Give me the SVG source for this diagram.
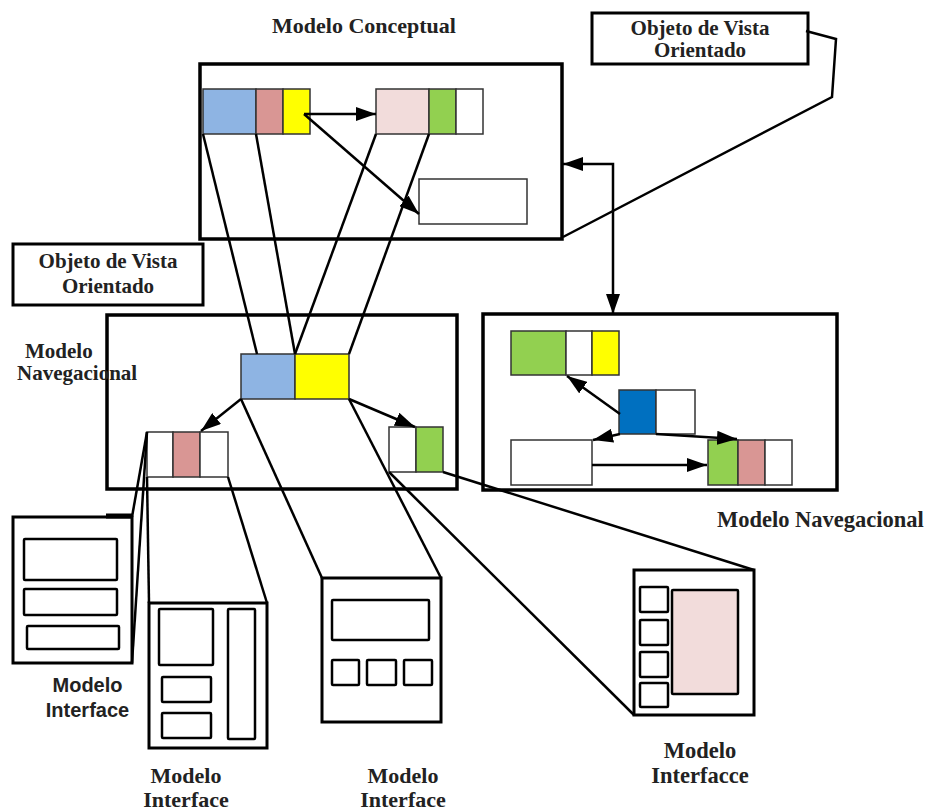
<svg xmlns="http://www.w3.org/2000/svg" width="931" height="811" viewBox="0 0 931 811">
<style>
.frame{fill:#fff;stroke:#000;stroke-width:3.5}
.cell{stroke:#333;stroke-width:1.5}
.ui{fill:#fff;stroke:#000;stroke-width:3}
.uin{fill:#fff;stroke:#000;stroke-width:2.5}
.lbl{fill:#fff;stroke:#000;stroke-width:3}
.con{fill:none;stroke:#000;stroke-width:2.5}
.ser{font-family:"Liberation Serif","Times New Roman",serif;font-weight:bold;fill:#222}
.san{font-family:"Liberation Sans",Arial,sans-serif;font-weight:bold;fill:#222}
.w{fill:#fff}.bl{fill:#8eb4e3}.pk{fill:#d99694}.yl{fill:#ffff00}.lp{fill:#f2dcdb}.gr{fill:#92d050}.db{fill:#0070c0}
</style>
<defs>
<marker id="ah" markerUnits="userSpaceOnUse" markerWidth="20" markerHeight="14" refX="20" refY="7" orient="auto">
<path d="M0,0 L20,7 L0,14 z" fill="#000"/>
</marker>
<marker id="ahs" markerUnits="userSpaceOnUse" markerWidth="20" markerHeight="14" refX="20" refY="7" orient="auto-start-reverse">
<path d="M0,0 L20,7 L0,14 z" fill="#000"/>
</marker>
</defs>
<rect width="931" height="811" fill="#fff"/>

<g id="conceptual">
<rect class="frame" x="200" y="64" width="362" height="175"/>
<rect class="cell bl" x="203" y="89" width="53" height="45"/>
<rect class="cell pk" x="256" y="89" width="27" height="45"/>
<rect class="cell yl" x="283" y="89" width="27" height="45"/>
<rect class="cell lp" x="376" y="89" width="53" height="45"/>
<rect class="cell gr" x="429" y="89" width="27" height="45"/>
<rect class="cell w" x="456" y="89" width="27" height="45"/>
<rect class="cell w" x="419" y="179" width="108" height="45"/>
<text class="ser" x="364" y="33" font-size="22" text-anchor="middle">Modelo Conceptual</text>
</g>

<g id="ovo-top">
<rect class="lbl" x="592" y="13" width="216" height="51"/>
<text class="ser" x="700" y="35" font-size="21" text-anchor="middle">Objeto de Vista</text>
<text class="ser" x="700" y="57" font-size="21" text-anchor="middle">Orientado</text>
</g>

<g id="ovo-left">
<rect class="lbl" x="13" y="244" width="190" height="61"/>
<text class="ser" x="108" y="268" font-size="21" text-anchor="middle">Objeto de Vista</text>
<text class="ser" x="108" y="293" font-size="21" text-anchor="middle">Orientado</text>
</g>

<g id="nav-left">
<rect class="frame" x="107" y="315" width="350" height="174"/>
<rect class="cell bl" x="241" y="354" width="54" height="45"/>
<rect class="cell yl" x="295" y="354" width="54" height="45"/>
<rect class="cell w" x="147" y="432" width="26" height="45"/>
<rect class="cell pk" x="173" y="432" width="27" height="45"/>
<rect class="cell w" x="200" y="432" width="28" height="45"/>
<rect class="cell w" x="389" y="427" width="27" height="45"/>
<rect class="cell gr" x="416" y="427" width="27" height="45"/>
<text class="ser" x="25" y="358" font-size="21">Modelo</text>
<text class="ser" x="17" y="380" font-size="21">Navegacional</text>
</g>

<g id="nav-right">
<rect class="frame" x="483" y="314" width="354" height="176"/>
<rect class="cell gr" x="511" y="331" width="55" height="44"/>
<rect class="cell w" x="566" y="331" width="26" height="44"/>
<rect class="cell yl" x="592" y="331" width="27" height="44"/>
<rect class="cell db" x="619" y="390" width="37" height="44"/>
<rect class="cell w" x="656" y="390" width="39" height="44"/>
<rect class="cell w" x="511" y="440" width="81" height="45"/>
<rect class="cell gr" x="708" y="440" width="30" height="45"/>
<rect class="cell pk" x="738" y="440" width="27" height="45"/>
<rect class="cell w" x="765" y="440" width="27" height="45"/>
<text class="ser" x="717" y="527" font-size="22.5">Modelo Navegacional</text>
</g>

<g id="interface-1">
<rect class="ui" x="13" y="517" width="119" height="146"/>
<line x1="106" y1="516" x2="132" y2="516" stroke="#000" stroke-width="5"/>
<rect class="uin" x="24" y="539" width="93" height="41" rx="1"/>
<rect class="uin" x="24" y="589" width="93" height="26" rx="1"/>
<rect class="uin" x="27" y="626" width="92" height="23" rx="1"/>
<text class="san" x="87.5" y="692" font-size="20" text-anchor="middle">Modelo</text>
<text class="san" x="87.5" y="717" font-size="20" text-anchor="middle">Interface</text>
</g>

<g id="interface-2">
<rect class="ui" x="149" y="603" width="118" height="145"/>
<rect class="uin" x="159" y="609" width="54" height="56" rx="1"/>
<rect class="uin" x="228" y="609" width="27" height="130" rx="1"/>
<rect class="uin" x="162" y="677" width="49" height="25" rx="1"/>
<rect class="uin" x="162" y="713" width="49" height="25" rx="1"/>
<text class="ser" x="186" y="783" font-size="22" text-anchor="middle">Modelo</text>
<text class="ser" x="186" y="807" font-size="22" text-anchor="middle">Interface</text>
</g>

<g id="interface-3">
<rect class="ui" x="322" y="578" width="119" height="144"/>
<rect class="uin" x="332" y="600" width="97" height="40" rx="1"/>
<rect class="uin" x="332" y="660" width="27" height="25" rx="1"/>
<rect class="uin" x="367" y="660" width="29" height="25" rx="1"/>
<rect class="uin" x="404" y="660" width="28" height="25" rx="1"/>
<text class="ser" x="403" y="783" font-size="22" text-anchor="middle">Modelo</text>
<text class="ser" x="403" y="807" font-size="22" text-anchor="middle">Interface</text>
</g>

<g id="interface-4">
<rect class="ui" x="634" y="570" width="120" height="145"/>
<rect class="uin" x="640" y="587" width="28" height="25" rx="1"/>
<rect class="uin" x="640" y="620" width="28" height="25" rx="1"/>
<rect class="uin" x="640" y="652" width="28" height="25" rx="1"/>
<rect class="uin" x="640" y="683" width="28" height="24" rx="1"/>
<rect x="672" y="590" width="66" height="104" fill="#f2dcdb" stroke="#000" stroke-width="2.5" rx="1"/>
<text class="ser" x="700" y="758" font-size="22.5" text-anchor="middle">Modelo</text>
<text class="ser" x="700" y="783" font-size="22.5" text-anchor="middle">Interfacce</text>
</g>

<g id="connectors">
<line class="con" x1="304" y1="114" x2="376" y2="114" marker-end="url(#ah)"/>
<line class="con" x1="304" y1="114" x2="419" y2="214" marker-end="url(#ah)"/>
<line class="con" x1="203" y1="134" x2="257" y2="354"/>
<line class="con" x1="256" y1="134" x2="295" y2="354"/>
<line class="con" x1="376" y1="134" x2="295" y2="354"/>
<line class="con" x1="429" y1="134" x2="349" y2="354"/>
<polyline class="con" points="806,31 836,39 832,97 563,237"/>
<polyline class="con" points="563,164 613,164 613,314" marker-start="url(#ahs)" marker-end="url(#ahs)"/>
<line class="con" x1="241" y1="399" x2="201" y2="431" marker-end="url(#ah)"/>
<line class="con" x1="349" y1="399" x2="415" y2="427" marker-end="url(#ah)"/>
<line class="con" x1="620" y1="414" x2="567" y2="376" marker-end="url(#ah)"/>
<line class="con" x1="620" y1="434" x2="593" y2="440" marker-end="url(#ah)"/>
<line class="con" x1="656" y1="434" x2="737" y2="439" marker-end="url(#ah)"/>
<line class="con" x1="592" y1="465" x2="707" y2="465" marker-end="url(#ah)"/>
<line class="con" x1="147" y1="432" x2="132" y2="517"/>
<line class="con" x1="147" y1="432" x2="132" y2="663"/>
<line class="con" x1="147" y1="477" x2="149" y2="603"/>
<line class="con" x1="228" y1="477" x2="267" y2="603"/>
<line class="con" x1="241" y1="399" x2="322" y2="578"/>
<line class="con" x1="349" y1="399" x2="441" y2="578"/>
<line class="con" x1="389" y1="472" x2="634" y2="715"/>
<line class="con" x1="443" y1="472" x2="754" y2="570"/>
</g>
</svg>
